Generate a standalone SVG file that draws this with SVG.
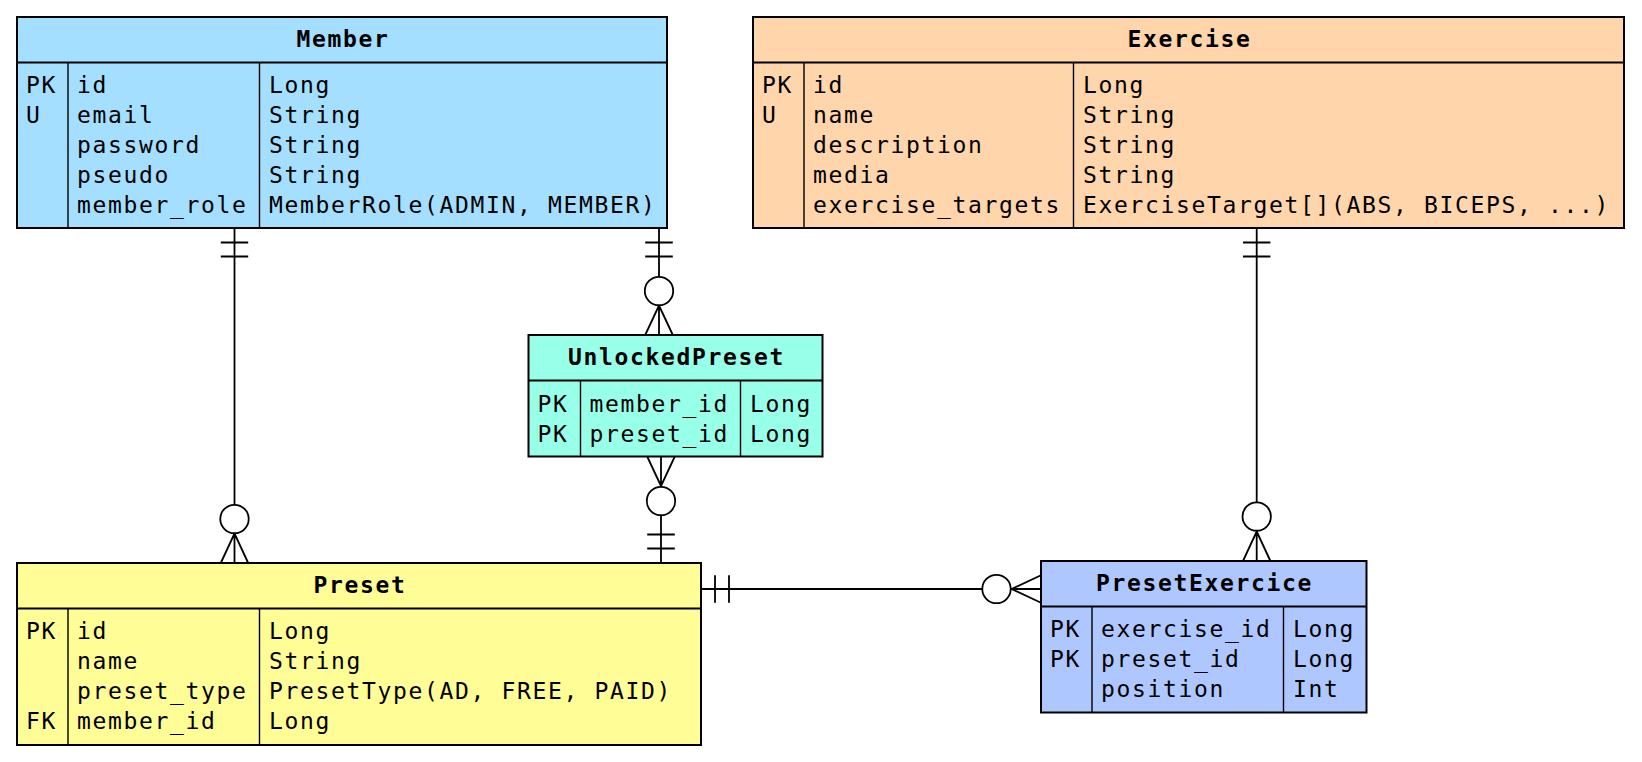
<svg xmlns="http://www.w3.org/2000/svg" width="1642" height="762" viewBox="0 0 1642 762">
<style>
text{font-family:"DejaVu Sans Mono","Liberation Mono",monospace;font-size:23px;letter-spacing:1.65px;fill:#000}
.t{font-weight:bold;text-anchor:middle}
.box{stroke:#000;stroke-width:2}
.div{stroke:#000;stroke-width:1.4;fill:none}
.sep{stroke:#000;stroke-width:2;fill:none}
.ln{stroke:#000;stroke-width:1.8;fill:none}
.ci{stroke:#000;stroke-width:1.8;fill:#fff}
</style>
<rect width="1642" height="762" fill="#fff"/>
<g id="connectors">
  <!-- Member - Preset -->
  <path class="ln" d="M234.5 228V563M220.8 242.5H248.2M220.8 256.5H248.2M234.5 533.5L220.8 563M234.5 533.5L248.2 563"/>
  <circle class="ci" cx="234.5" cy="519" r="14.2"/>
  <!-- Member - UnlockedPreset -->
  <path class="ln" d="M659 228V335M645.2 242.5H672.8M645.2 256.5H672.8M659 305.5L645.2 335M659 305.5L672.8 335"/>
  <circle class="ci" cx="659" cy="291" r="14.2"/>
  <!-- UnlockedPreset - Preset -->
  <path class="ln" d="M661 456.5V563M647.2 534.5H674.8M647.2 548.5H674.8M661 486L647.2 456.5M661 486L674.8 456.5"/>
  <circle class="ci" cx="661" cy="501" r="14.2"/>
  <!-- Preset - PresetExercice -->
  <path class="ln" d="M701 589H1041M715 575.3V602.7M729 575.3V602.7M1011.5 589L1041 575.2M1011.5 589L1041 602.8"/>
  <circle class="ci" cx="996.5" cy="589" r="14.2"/>
  <!-- Exercise - PresetExercice -->
  <path class="ln" d="M1256.7 228V561M1243 242.5H1270.4M1243 256.5H1270.4M1256.7 531.5L1243 561M1256.7 531.5L1270.4 561"/>
  <circle class="ci" cx="1256.7" cy="516.5" r="14.2"/>
</g>
<g id="member">
  <rect class="box" x="17" y="17" width="650" height="211" fill="#a4dfff"/>
  <path class="sep" d="M17 62.5H667"/>
  <path class="div" d="M68 62.5V228M259.5 62.5V228"/>
  <text class="t" x="343" y="46.5">Member</text>
  <text x="26" y="93">PK</text>
  <text x="26" y="123">U</text>
  <text x="77" y="93">id</text>
  <text x="77" y="123">email</text>
  <text x="77" y="153">password</text>
  <text x="77" y="183">pseudo</text>
  <text x="77" y="213">member_role</text>
  <text x="269" y="93">Long</text>
  <text x="269" y="123">String</text>
  <text x="269" y="153">String</text>
  <text x="269" y="183">String</text>
  <text x="269" y="213">MemberRole(ADMIN, MEMBER)</text>
</g>
<g id="exercise">
  <rect class="box" x="753" y="17" width="871" height="211" fill="#ffd6ab"/>
  <path class="sep" d="M753 62.5H1624"/>
  <path class="div" d="M804 62.5V228M1073.5 62.5V228"/>
  <text class="t" x="1189.5" y="46.5">Exercise</text>
  <text x="762" y="93">PK</text>
  <text x="762" y="123">U</text>
  <text x="813" y="93">id</text>
  <text x="813" y="123">name</text>
  <text x="813" y="153">description</text>
  <text x="813" y="183">media</text>
  <text x="813" y="213">exercise_targets</text>
  <text x="1083" y="93">Long</text>
  <text x="1083" y="123">String</text>
  <text x="1083" y="153">String</text>
  <text x="1083" y="183">String</text>
  <text x="1083" y="213">ExerciseTarget[](ABS, BICEPS, ...)</text>
</g>
<g id="unlockedpreset">
  <rect class="box" x="528.5" y="335" width="294" height="121.5" fill="#98ffe8"/>
  <path class="sep" d="M528.5 380.5H822.5"/>
  <path class="div" d="M580.5 380.5V456.5M740.5 380.5V456.5"/>
  <text class="t" x="676.5" y="364.5">UnlockedPreset</text>
  <text x="537.5" y="411.5">PK</text>
  <text x="537.5" y="441.5">PK</text>
  <text x="589.5" y="411.5">member_id</text>
  <text x="589.5" y="441.5">preset_id</text>
  <text x="750" y="411.5">Long</text>
  <text x="750" y="441.5">Long</text>
</g>
<g id="preset">
  <rect class="box" x="17" y="563" width="684" height="182" fill="#fffd96"/>
  <path class="sep" d="M17 608.5H701"/>
  <path class="div" d="M68 608.5V745M259.5 608.5V745"/>
  <text class="t" x="360" y="592.5">Preset</text>
  <text x="26" y="639">PK</text>
  <text x="26" y="729">FK</text>
  <text x="77" y="639">id</text>
  <text x="77" y="669">name</text>
  <text x="77" y="699">preset_type</text>
  <text x="77" y="729">member_id</text>
  <text x="269" y="639">Long</text>
  <text x="269" y="669">String</text>
  <text x="269" y="699">PresetType(AD, FREE, PAID)</text>
  <text x="269" y="729">Long</text>
</g>
<g id="presetexercice">
  <rect class="box" x="1041" y="561" width="325.5" height="151.5" fill="#aec8ff"/>
  <path class="sep" d="M1041 606.5H1366.5"/>
  <path class="div" d="M1092 606.5V712.5M1283.5 606.5V712.5"/>
  <text class="t" x="1204.5" y="590.5">PresetExercice</text>
  <text x="1050" y="637">PK</text>
  <text x="1050" y="667">PK</text>
  <text x="1101" y="637">exercise_id</text>
  <text x="1101" y="667">preset_id</text>
  <text x="1101" y="697">position</text>
  <text x="1293" y="637">Long</text>
  <text x="1293" y="667">Long</text>
  <text x="1293" y="697">Int</text>
</g>
</svg>
